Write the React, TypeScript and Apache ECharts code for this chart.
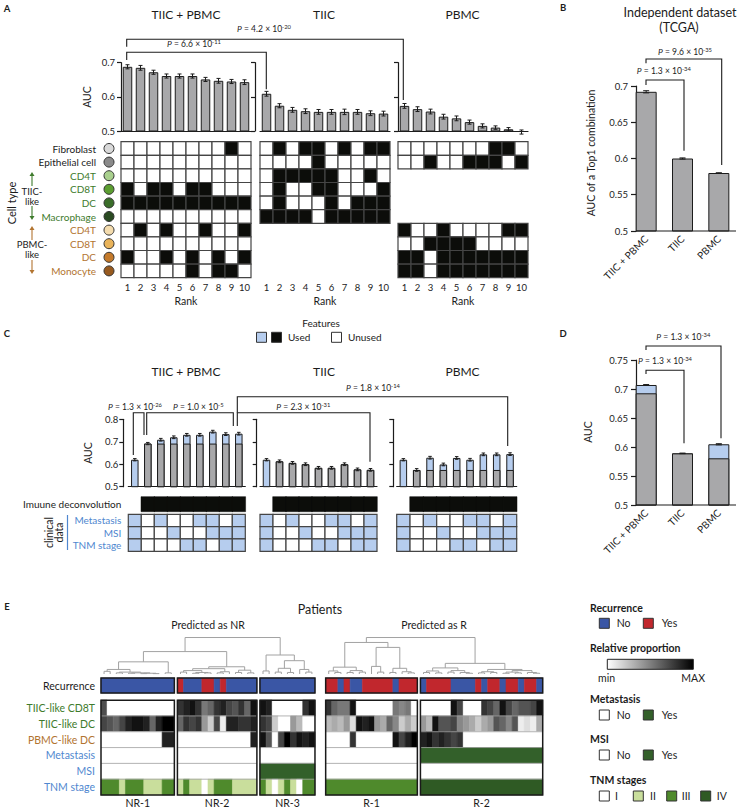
import { useEffect, useRef } from 'react';
import * as echarts from 'echarts';

const FONT = 'Lato, "Noto Sans", "DejaVu Sans", sans-serif';
const INK = '#1c1c1c';
const GREY_BAR = '#a8a8aa';
const BLUE_BAR = '#b6cdee';
const BLACK_CELL = '#0c0d0a';
const GREEN_TXT = '#3e7b2c';
const BROWN_TXT = '#b27430';
const BLUE_TXT = '#4f87cf';
const REC_NO = '#3a56a5';
const REC_YES = '#c1272d';
const BIN_YES = '#33602a';
const TNM_COLORS = ['#ffffff', '#c9de9c', '#4f8a2c', '#2f5a24'];

// ---------------- Panel A ----------------
const rankLabels = ['1', '2', '3', '4', '5', '6', '7', '8', '9', '10'];
const cellTypes = ['Fibroblast', 'Epithelial cell', 'CD4T', 'CD8T', 'DC', 'Macrophage', 'CD4T', 'CD8T', 'DC', 'Monocyte'];
const cellTypeTextColors = [INK, INK, GREEN_TXT, GREEN_TXT, GREEN_TXT, GREEN_TXT, BROWN_TXT, BROWN_TXT, BROWN_TXT, BROWN_TXT];
const cellDotColors = ['#d9d9d9', '#8a8a8a', '#a9d08e', '#5c9e31', '#3b6e2a', '#2a4a22', '#f4dcae', '#e9b35a', '#c47a2b', '#975a1f'];

const aucA_TiicPbmc = [0.688, 0.685, 0.672, 0.661, 0.661, 0.661, 0.651, 0.647, 0.645, 0.643];
const errA_TiicPbmc = [0.006, 0.007, 0.006, 0.006, 0.006, 0.006, 0.006, 0.007, 0.006, 0.007];
const aucA_Tiic = [0.609, 0.574, 0.562, 0.558, 0.556, 0.556, 0.556, 0.556, 0.552, 0.551];
const errA_Tiic = [0.007, 0.006, 0.007, 0.007, 0.007, 0.007, 0.008, 0.007, 0.007, 0.007];
const aucA_Pbmc = [0.5735, 0.564, 0.557, 0.542, 0.537, 0.526, 0.515, 0.51, 0.505, 0.497];
const errA_Pbmc = [0.007, 0.007, 0.007, 0.007, 0.007, 0.006, 0.006, 0.005, 0.005, 0.006];

// 1 = cell type used, null = cell type not available in that set
const matA_TiicPbmc = [
  [0, 0, 0, 0, 0, 0, 0, 0, 1, 0],
  [0, 0, 0, 0, 0, 0, 0, 0, 0, 0],
  [0, 0, 0, 0, 0, 0, 0, 0, 0, 0],
  [1, 0, 1, 1, 0, 1, 1, 0, 0, 0],
  [1, 1, 1, 1, 1, 1, 1, 1, 1, 1],
  [0, 0, 0, 0, 0, 0, 0, 0, 0, 0],
  [0, 1, 0, 1, 0, 0, 1, 0, 0, 1],
  [0, 0, 0, 0, 0, 0, 0, 0, 0, 0],
  [1, 0, 0, 1, 0, 1, 0, 1, 0, 1],
  [0, 0, 0, 0, 0, 1, 0, 1, 1, 0],
];
const matA_Tiic = [
  [0, 1, 0, 1, 1, 0, 1, 0, 1, 1],
  [0, 0, 0, 0, 1, 0, 0, 0, 0, 0],
  [0, 1, 1, 1, 1, 1, 0, 0, 1, 0],
  [0, 1, 0, 0, 1, 1, 0, 0, 0, 1],
  [0, 1, 0, 0, 0, 1, 0, 1, 1, 1],
  [1, 1, 1, 1, 0, 1, 1, 1, 1, 1],
  null, null, null, null,
];
const matA_Pbmc = [
  [0, 0, 0, 0, 0, 0, 0, 1, 1, 0],
  [0, 0, 1, 0, 0, 1, 1, 1, 0, 1],
  null, null, null, null,
  [1, 0, 0, 1, 0, 0, 0, 0, 1, 1],
  [0, 0, 1, 1, 1, 1, 0, 0, 0, 0],
  [1, 1, 0, 1, 1, 1, 1, 1, 1, 1],
  [1, 1, 0, 1, 1, 1, 1, 1, 1, 1],
];

// ---------------- Panel B ----------------
const groupLabels = ['TIIC + PBMC', 'TIIC', 'PBMC'];
const aucB = [0.692, 0.6, 0.58];
const errB = [0.0015, 0.0008, 0.0003];

// ---------------- Panel C ----------------
const combos = ['1', '2', '3', '4', '5', '6', '7', '8', '9'];
const aucC_TiicPbmc_total = [0.62, 0.692, 0.709, 0.72, 0.731, 0.731, 0.745, 0.734, 0.736];
const aucC_TiicPbmc_deconv: any[] = ['-', 0.692, 0.692, 0.692, 0.692, 0.692, 0.692, 0.692, 0.692];
const errC_TiicPbmc = [0.005, 0.005, 0.006, 0.006, 0.006, 0.006, 0.006, 0.006, 0.006];
const aucC_Tiic_total = [0.62, 0.613, 0.606, 0.6, 0.584, 0.584, 0.6, 0.577, 0.575];
const aucC_Tiic_deconv: any[] = ['-', 0.613, 0.606, 0.6, 0.584, 0.584, 0.6, 0.577, 0.575];
const errC_Tiic = [0.005, 0.006, 0.006, 0.006, 0.006, 0.006, 0.006, 0.006, 0.006];
const aucC_Pbmc_total = [0.62, 0.5745, 0.629, 0.599, 0.628, 0.62, 0.644, 0.644, 0.645];
const aucC_Pbmc_deconv: any[] = ['-', 0.5745, 0.5745, 0.5745, 0.5745, 0.5745, 0.5745, 0.5745, 0.5745];
const errC_Pbmc = [0.005, 0.006, 0.006, 0.006, 0.006, 0.006, 0.006, 0.006, 0.006];
const usesDeconvolution = [0, 1, 1, 1, 1, 1, 1, 1, 1];
const clinicalLabels = ['Metastasis', 'MSI', 'TNM stage'];
const usesMetastasis = [1, 0, 1, 0, 0, 1, 1, 0, 1];
const usesMSI = [1, 0, 0, 1, 0, 0, 1, 1, 1];
const usesTNM = [1, 0, 0, 0, 1, 1, 0, 1, 1];

// ---------------- Panel D ----------------
const aucD_deconv = [0.6926, 0.589, 0.5805];
const aucD_total = [0.7069, 0.589, 0.6047];
const errD = [0.0008, 0.0005, 0.001];

// ---------------- Panel E ----------------
const clusterNames = ['NR-1', 'NR-2', 'NR-3', 'R-1', 'R-2'];
const recurrence = [
  [0, 0, 0, 0, 0, 0, 0, 0, 0, 0, 0, 0],
  [1, 0, 0, 0, 1, 1, 0, 1, 0, 0, 0, 0, 0],
  [0, 0, 0, 0, 0, 0, 0, 0, 0],
  [1, 1, 0, 1, 0, 0, 1, 1, 1, 1, 1, 0, 1, 1, 1],
  [0, 1, 1, 1, 1, 0, 0, 0, 0, 1, 0, 1, 1, 0, 1, 1, 0, 1, 1, 0],
];
const tiicCD8 = [
  [0.7, 0, 0, 0, 0, 0, 0, 0, 0, 0, 0, 0],
  [0.8, 0.87, 0.93, 0.8, 0.53, 0.6, 0.8, 0.87, 0.73, 0.67, 0.8, 0.6, 0.93],
  [0.93, 0.87, 0, 0, 0, 0, 0, 0.8, 0.93],
  [0.8, 0.6, 0.53, 0.53, 0.93, 0, 0, 0, 0, 0, 0, 0.53, 0.47, 0.53, 0],
  [0, 0, 0, 0, 0, 0.93, 0.73, 0, 0, 0, 0.8, 0.73, 0.6, 0.93, 0.73, 0.6, 0.67, 0.67, 0.73, 0.93],
];
const tiicDC = [
  [0.73, 0.67, 0.6, 0.73, 0.87, 0.93, 0.93, 0.87, 0.6, 0.87, 1, 1],
  [0.6, 0.8, 0.73, 0.8, 0.4, 0.2, 0.73, 0.07, 0.87, 0.87, 0.8, 0.8, 0.87],
  [0.8, 0.73, 0.2, 0, 0, 0.4, 0.27, 0, 0],
  [0.27, 0.33, 0.27, 0.4, 0.13, 0.93, 0.87, 0.93, 0.4, 0.33, 0.6, 0.47, 0.2, 0.33, 0.2],
  [0.4, 0.27, 0.93, 0.67, 0.67, 0.73, 0.47, 0.4, 0.33, 0.2, 0.33, 0.4, 0.67, 0.6, 0.47, 0.67, 0.07, 0.13, 0.07, 0.33],
];
const pbmcDC = [
  [0, 0, 0, 0, 0, 0, 0, 0, 0, 0, 0.87, 0.87],
  [0, 0, 0, 0, 0, 0, 0, 0, 0, 0, 0, 0, 0.87],
  [0.93, 0.67, 0, 0.73, 1, 0.8, 0.93, 0.87, 0.93],
  [0, 0, 0, 0, 0.8, 0, 0, 0, 0, 0, 0, 0.93, 0.73, 0.87, 1],
  [0.87, 0.93, 0.8, 0.87, 0.8, 0.73, 0.8, 0, 0, 0, 0, 0, 0, 0, 0, 0, 0, 0, 0, 0],
];
const metastasis = [
  [0, 0, 0, 0, 0, 0, 0, 0, 0, 0, 0, 0],
  [0, 0, 0, 0, 0, 0, 0, 0, 0, 0, 0, 0, 0],
  [0, 0, 0, 0, 0, 0, 0, 0, 0],
  [0, 0, 0, 0, 0, 0, 0, 0, 0, 0, 0, 0, 0, 0, 0],
  [1, 1, 1, 1, 1, 1, 1, 1, 1, 1, 1, 1, 1, 1, 1, 1, 1, 1, 1, 1],
];
const msi = [
  [0, 0, 0, 0, 0, 0, 0, 0, 0, 0, 0, 0],
  [0, 0, 0, 0, 0, 0, 0, 0, 0, 0, 0, 0, 0],
  [1, 1, 1, 1, 1, 1, 1, 1, 1],
  [0, 0, 0, 0, 0, 0, 0, 0, 0, 0, 0, 0, 0, 0, 0],
  [0, 0, 0, 0, 0, 0, 0, 0, 0, 0, 0, 0, 0, 0, 0, 0, 0, 0, 0, 0],
];
const tnmStage = [
  [3, 3, 3, 2, 3, 3, 3, 2, 2, 2, 3, 3],
  [2, 3, 2, 2, 1, 2, 3, 3, 3, 2, 2, 2, 2],
  [3, 2, 1, 2, 3, 2, 1, 3, 3],
  [3, 3, 3, 3, 3, 3, 3, 3, 3, 3, 3, 3, 3, 3, 3],
  [4, 4, 4, 4, 4, 4, 4, 4, 4, 4, 4, 4, 4, 4, 4, 4, 4, 4, 4, 4],
];
// dendrograms: [height, left, right]; leaves = local patient index
const treeNR1 = [3.2, [1.2, [0.7, 0, 1], [0.5, [0.3, 2, 3], [0.3, [0.2, 4, 5], [0.2, [0.1, 6, 7], [0.1, 8, 9]]]]], [0.3, 10, 11]];
const treeNR2 = [1.9, [1.4, [0.9, [0.5, 0, 1], [0.4, [0.2, 2, 3], [0.3, 4, 5]]], [0.6, [0.3, 6, 7], 8]], [1.0, [0.4, 9, 10], [0.3, 11, 12]]];
const treeNR3 = [5.0, [0.8, 0, 1], [3.5, [1.5, [0.5, 2, 3], [0.4, 4, 5]], [1.2, 6, [0.5, 7, 8]]]];
const treeR1 = [8.3, [1.8, [0.8, 0, [0.4, 1, 2]], [0.9, [0.4, 3, 4], [0.5, 5, 6]]], [7.0, [2.0, 7, [0.5, 8, 9]], [1.5, [0.4, 10, 11], [0.6, 12, [0.3, 13, 14]]]]];
const treeR2 = [2.8, [1.6, [0.8, [0.4, 0, 1], [0.3, 2, 3]], [0.9, [0.5, 4, 5], [0.4, 6, [0.2, 7, 8]]]], [1.2, [0.6, [0.3, 9, 10], [0.4, 11, 12]], [0.9, [0.5, [0.2, 13, 14], [0.3, 15, 16]], [0.4, 17, [0.2, 18, 19]]]]];
const heightNRroot = 9.6;
const heightNR12 = 5.9;
const heightRroot = 9.6;

// layout constants for E (gaps between cluster blocks, in patient units)
const clusterGap = [0, 0.5, 0.5, 1.75, 0.5];

function buildOption() {
  const grid: any[] = [];
  const xAxis: any[] = [];
  const yAxis: any[] = [];
  const series: any[] = [];
  const graphic: any[] = [];
  const axLine = { show: true, lineStyle: { color: INK, width: 1.2 } };

  const addGrid = (g: any) => {
    grid.push({ ...g, containLabel: false, outerBoundsMode: 'none' });
    return grid.length - 1;
  };

  const errRender = (capW: number) => (params: any, api: any) => {
    const x = api.value(0);
    const top = api.coord([x, api.value(2)]);
    const bot = api.coord([x, api.value(1)]);
    const st = { stroke: INK, lineWidth: 1 };
    return {
      type: 'group',
      children: [
        { type: 'line', shape: { x1: top[0], y1: top[1], x2: bot[0], y2: bot[1] }, style: st },
        { type: 'line', shape: { x1: top[0] - capW / 2, y1: top[1], x2: top[0] + capW / 2, y2: top[1] }, style: st },
        { type: 'line', shape: { x1: bot[0] - capW / 2, y1: bot[1], x2: bot[0] + capW / 2, y2: bot[1] }, style: st },
      ],
    };
  };

  const cellRender = (fill: (v: number) => string) => (params: any, api: any) => {
    const c = api.coord([api.value(0), api.value(1)]);
    const s = api.size([1, 1]);
    return {
      type: 'rect',
      shape: { x: c[0] - s[0] / 2, y: c[1] - s[1] / 2, width: s[0], height: s[1] },
      style: { fill: fill(api.value(2)), stroke: '#454545', lineWidth: 1.2 },
    };
  };

  const barPanel = (cfg: any) => {
    const gi = addGrid({ left: cfg.left, top: cfg.top, width: cfg.width, height: cfg.height });
    xAxis.push({
      type: 'category', gridIndex: gi, data: cfg.cats,
      axisLine: cfg.hideX ? { show: false } : axLine,
      axisTick: { show: false },
      axisLabel: cfg.xLabel || { show: false },
    });
    yAxis.push({
      type: 'value', gridIndex: gi, min: cfg.min, max: cfg.max, interval: cfg.interval,
      offset: cfg.offset || 0, splitLine: { show: false }, axisLine: axLine,
      axisTick: { show: true, length: cfg.tickLen || 4, lineStyle: { color: INK, width: 1.2 } },
      axisLabel: {
        show: !!cfg.showY, fontSize: 9.5, fontFamily: FONT, color: INK, margin: cfg.margin || 5,
        formatter: (v: number) => String(+v.toFixed(2)),
      },
    });
    return gi;
  };

  // ===== Panel A bars =====
  const aGroups = [
    { left: 121, off: 0, showY: true, vals: aucA_TiicPbmc, err: errA_TiicPbmc, mat: matA_TiicPbmc },
    { left: 260, off: 5, showY: false, vals: aucA_Tiic, err: errA_Tiic, mat: matA_Tiic },
    { left: 398, off: 0, showY: false, vals: aucA_Pbmc, err: errA_Pbmc, mat: matA_Pbmc },
  ];
  aGroups.forEach((g) => {
    const gi = barPanel({ left: g.left, top: 62.7, width: 130, height: 68.3, cats: rankLabels, min: 0.5, max: 0.7, interval: 0.1, offset: g.off, showY: g.showY, margin: 6 });
    series.push({ type: 'bar', xAxisIndex: gi, yAxisIndex: gi, data: g.vals, barWidth: 9.5, silent: true, itemStyle: { color: GREY_BAR, borderColor: INK, borderWidth: 1 } });
    series.push({ type: 'custom', xAxisIndex: gi, yAxisIndex: gi, silent: true, z: 5, renderItem: errRender(4), data: g.vals.map((v, i) => [i, v - g.err[i], v + g.err[i]]) });
  });
  // ===== Panel A matrices =====
  aGroups.forEach((g, k) => {
    const gi = addGrid({ left: g.left, top: 141.7, width: 130, height: 136 });
    xAxis.push({
      type: 'category', gridIndex: gi, data: rankLabels, position: 'bottom',
      axisLine: { show: false }, axisTick: { show: false },
      axisLabel: { interval: 0, fontSize: 9.5, fontFamily: FONT, color: INK, margin: 5 },
      name: 'Rank', nameLocation: 'middle', nameGap: 18,
      nameTextStyle: { fontSize: 10.5, fontFamily: FONT, color: INK },
    });
    yAxis.push({
      type: 'category', gridIndex: gi, data: cellTypes.map((_, i) => 'r' + i), inverse: true,
      axisLine: { show: false }, axisTick: { show: false },
      axisLabel: k === 0
        ? { show: true, interval: 0, margin: 25, fontSize: 10, fontFamily: FONT, formatter: (v: string, i: number) => cellTypes[i], color: (v: any, i: number) => cellTypeTextColors[i] }
        : { show: false },
    });
    const data: any[] = [];
    g.mat.forEach((row: any, r: number) => row && row.forEach((v: number, c: number) => data.push([c, r, v])));
    series.push({ type: 'custom', xAxisIndex: gi, yAxisIndex: gi, silent: true, renderItem: cellRender((v) => (v ? BLACK_CELL : '#ffffff')), data });
  });

  // ===== Panel B =====
  {
    const gi = barPanel({
      left: 628, top: 86, width: 109, height: 145, cats: groupLabels, min: 0.5, max: 0.7, interval: 0.05,
      offset: -8, showY: true, margin: 8, tickLen: 5, hideX: true,
      xLabel: { show: true, rotate: 45, interval: 0, fontSize: 10, fontFamily: FONT, color: INK, margin: 6 },
    });
    series.push({ type: 'bar', xAxisIndex: gi, yAxisIndex: gi, data: aucB, barWidth: 21, silent: true, itemStyle: { color: GREY_BAR, borderColor: INK, borderWidth: 1 } });
    series.push({ type: 'custom', xAxisIndex: gi, yAxisIndex: gi, silent: true, z: 5, renderItem: errRender(6), data: aucB.map((v, i) => [i, v - errB[i], v + errB[i]]) });
  }

  // ===== Panel C bars =====
  const cGroups = [
    { left: 128.3, width: 117, off: 5, showY: true, total: aucC_TiicPbmc_total, base: aucC_TiicPbmc_deconv, err: errC_TiicPbmc },
    { left: 260, width: 117, off: 3.3, showY: false, total: aucC_Tiic_total, base: aucC_Tiic_deconv, err: errC_Tiic },
    { left: 396.7, width: 120, off: 3.4, showY: false, total: aucC_Pbmc_total, base: aucC_Pbmc_deconv, err: errC_Pbmc },
  ];
  cGroups.forEach((g) => {
    const gi = barPanel({ left: g.left, top: 419.3, width: g.width, height: 67.4, cats: combos, min: 0.5, max: 0.8, interval: 0.1, offset: g.off, showY: g.showY, margin: 5 });
    series.push({ type: 'bar', xAxisIndex: gi, yAxisIndex: gi, data: g.total, barWidth: 7.5, barGap: '-100%', silent: true, itemStyle: { color: BLUE_BAR, borderColor: INK, borderWidth: 1 } });
    series.push({ type: 'bar', xAxisIndex: gi, yAxisIndex: gi, data: g.base, barWidth: 7.5, barGap: '-100%', silent: true, itemStyle: { color: GREY_BAR, borderColor: INK, borderWidth: 1 } });
    series.push({ type: 'custom', xAxisIndex: gi, yAxisIndex: gi, silent: true, z: 5, renderItem: errRender(3.5), data: g.total.map((v, i) => [i, v - g.err[i], v + g.err[i]]) });
  });
  // deconvolution rows
  cGroups.forEach((g, k) => {
    const gi = addGrid({ left: g.left, top: 496.7, width: g.width, height: 15 });
    xAxis.push({ type: 'category', gridIndex: gi, data: combos, show: false });
    yAxis.push({
      type: 'category', gridIndex: gi, data: ['Imuune deconvolution'],
      axisLine: { show: false }, axisTick: { show: false },
      axisLabel: { show: k === 0, margin: 7, fontSize: 10, fontFamily: FONT, color: INK },
    });
    series.push({
      type: 'custom', xAxisIndex: gi, yAxisIndex: gi, silent: true,
      data: usesDeconvolution.map((v, i) => [i, 0, v]).filter((d) => d[2] === 1),
      renderItem: (params: any, api: any) => {
        const c = api.coord([api.value(0), 0]);
        const s = api.size([1, 1]);
        return { type: 'rect', shape: { x: c[0] - s[0] / 2 - 0.3, y: c[1] - s[1] / 2, width: s[0] + 0.6, height: s[1] }, style: { fill: BLACK_CELL, stroke: BLACK_CELL, lineWidth: 0.5 } };
      },
    });
  });
  // clinical matrices
  cGroups.forEach((g, k) => {
    const gi = addGrid({ left: g.left, top: 514.3, width: g.width, height: 37 });
    xAxis.push({ type: 'category', gridIndex: gi, data: combos, show: false });
    yAxis.push({
      type: 'category', gridIndex: gi, data: clinicalLabels, inverse: true,
      axisLine: { show: false }, axisTick: { show: false },
      axisLabel: { show: k === 0, interval: 0, margin: 7, fontSize: 10, fontFamily: FONT, color: BLUE_TXT },
    });
    const data: any[] = [];
    [usesMetastasis, usesMSI, usesTNM].forEach((row, r) => row.forEach((v, c) => data.push([c, r, v])));
    series.push({ type: 'custom', xAxisIndex: gi, yAxisIndex: gi, silent: true, renderItem: cellRender((v) => (v ? BLUE_BAR : '#ffffff')), data });
  });

  // ===== Panel D =====
  {
    const gi = barPanel({
      left: 628, top: 360, width: 109, height: 145, cats: groupLabels, min: 0.5, max: 0.75, interval: 0.05,
      offset: -8, showY: true, margin: 8, tickLen: 5, hideX: true,
      xLabel: { show: true, rotate: 45, interval: 0, fontSize: 10, fontFamily: FONT, color: INK, margin: 6 },
    });
    series.push({ type: 'bar', xAxisIndex: gi, yAxisIndex: gi, data: aucD_total, barWidth: 21, barGap: '-100%', silent: true, itemStyle: { color: BLUE_BAR, borderColor: INK, borderWidth: 1 } });
    series.push({ type: 'bar', xAxisIndex: gi, yAxisIndex: gi, data: aucD_deconv, barWidth: 21, barGap: '-100%', silent: true, itemStyle: { color: GREY_BAR, borderColor: INK, borderWidth: 1 } });
    series.push({ type: 'custom', xAxisIndex: gi, yAxisIndex: gi, silent: true, z: 5, renderItem: errRender(6), data: aucD_total.map((v, i) => [i, v - errD[i], v + errD[i]]) });
  }

  // ===== Panel E =====
  const sizes = recurrence.map((r) => r.length);
  const starts: number[] = [];
  sizes.forEach((n, i) => starts.push(i === 0 ? 0 : starts[i - 1] + sizes[i - 1] + clusterGap[i]));
  const totalUnits = starts[starts.length - 1] + sizes[sizes.length - 1];

  // dendrogram
  {
    const gi = addGrid({ left: 101, top: 636, width: 441.7, height: 38 });
    xAxis.push({ type: 'value', gridIndex: gi, min: 0, max: totalUnits, show: false, splitLine: { show: false } });
    yAxis.push({ type: 'value', gridIndex: gi, min: 0, max: 10, show: false, splitLine: { show: false } });
    const segs: number[][] = [];
    const layoutTree = (node: any, off: number): { x: number; h: number } => {
      if (typeof node === 'number') return { x: off + node + 0.5, h: 0 };
      if (!Array.isArray(node)) return layoutTree(node.t, node.off);
      const [h, l, r] = node;
      const a = layoutTree(l, off);
      const b = layoutTree(r, off);
      segs.push([a.x, a.h, a.x, h], [b.x, b.h, b.x, h], [a.x, h, b.x, h]);
      return { x: (a.x + b.x) / 2, h };
    };
    layoutTree([heightNRroot, [heightNR12, { off: starts[0], t: treeNR1 }, { off: starts[1], t: treeNR2 }], { off: starts[2], t: treeNR3 }], 0);
    layoutTree([heightRroot, { off: starts[3], t: treeR1 }, { off: starts[4], t: treeR2 }], 0);
    series.push({
      type: 'custom', xAxisIndex: gi, yAxisIndex: gi, silent: true, data: segs,
      renderItem: (params: any, api: any) => {
        const p = api.coord([api.value(0), api.value(1)]);
        const q = api.coord([api.value(2), api.value(3)]);
        return { type: 'line', shape: { x1: p[0], y1: p[1], x2: q[0], y2: q[1] }, style: { stroke: '#a2a2a2', lineWidth: 1 } };
      },
    });
  }
  // heatmap: consecutive equal cells in a row are merged into one run [start, row, value, kind, length]
  {
    const gi = addGrid({ left: 101, top: 678, width: 441.7, height: 117 });
    xAxis.push({ type: 'value', gridIndex: gi, min: 0, max: totalUnits, show: false, splitLine: { show: false } });
    yAxis.push({ type: 'value', gridIndex: gi, min: 0, max: 7.4, inverse: true, show: false, splitLine: { show: false } });
    const data: any[] = [];
    const pushRuns = (vals: number[], x0: number, row: number, kind: number) => {
      let j = 0;
      while (j < vals.length) {
        let n = 1;
        while (j + n < vals.length && vals[j + n] === vals[j]) n++;
        data.push([x0 + j, row, vals[j], kind, n]);
        j += n;
      }
    };
    const rows = [tiicCD8, tiicDC, pbmcDC, metastasis, msi, tnmStage];
    const kinds = [1, 1, 1, 2, 2, 3];
    clusterNames.forEach((_, k) => {
      pushRuns(recurrence[k], starts[k], -1, 0);
      rows.forEach((row, r) => pushRuns(row[k], starts[k], r, kinds[r]));
    });
    const colorOf = (v: number, kind: number) => {
      if (kind === 0) return v ? REC_YES : REC_NO;
      if (kind === 2) return v ? BIN_YES : '#ffffff';
      if (kind === 3) return TNM_COLORS[v - 1];
      const g = Math.round(255 * (1 - v));
      return `rgb(${g},${g},${g})`;
    };
    series.push({
      type: 'custom', xAxisIndex: gi, yAxisIndex: gi, silent: true, data,
      renderItem: (params: any, api: any) => {
        const x = api.value(0), r = api.value(1), n = api.value(4);
        const y0 = r < 0 ? 0 : 1.4 + r;
        const y1 = r < 0 ? 0.95 : 2.4 + r;
        const p0 = api.coord([x, y0]);
        const p1 = api.coord([x + n, y1]);
        const col = colorOf(api.value(2), api.value(3));
        return { type: 'rect', shape: { x: p0[0], y: Math.min(p0[1], p1[1]), width: p1[0] - p0[0], height: Math.abs(p1[1] - p0[1]) }, style: { fill: col, stroke: col, lineWidth: 0.6 } };
      },
    });
    series.push({
      type: 'custom', xAxisIndex: gi, yAxisIndex: gi, silent: true, z: 4,
      data: clusterNames.map((_, k) => [starts[k], starts[k] + sizes[k]]),
      renderItem: (params: any, api: any) => {
        const s = api.value(0), e = api.value(1);
        const a = api.coord([s, 0]), b = api.coord([e, 0.95]);
        const c = api.coord([s, 1.4]), d = api.coord([e, 7.4]);
        const children: any[] = [];
        for (let r = 1; r < 6; r++) {
          const p = api.coord([s, 1.4 + r]);
          children.push({ type: 'line', shape: { x1: c[0], y1: p[1], x2: d[0], y2: p[1] }, style: { stroke: '#a0a0a0', lineWidth: 0.8 } });
        }
        children.push({ type: 'rect', shape: { x: a[0], y: a[1], width: b[0] - a[0], height: b[1] - a[1] }, style: { fill: 'none', stroke: '#1a1a1a', lineWidth: 1.5 } });
        children.push({ type: 'rect', shape: { x: c[0], y: c[1], width: d[0] - c[0], height: d[1] - c[1] }, style: { fill: 'none', stroke: '#1a1a1a', lineWidth: 1.5 } });
        return { type: 'group', children };
      },
    });
    // cluster labels under the blocks
    clusterNames.forEach((n, k) => {
      const cx = 101 + ((starts[k] + sizes[k] / 2) / totalUnits) * 441.7;
      graphic.push(txt(n, cx, 802.5, { size: 10.5 }));
    });
  }

  // ===== graphic annotations =====
  // panel letters
  graphic.push(txt('A', 7, 8, { size: 9.5, weight: 'bold' }));
  graphic.push(txt('B', 563, 7, { size: 9.5, weight: 'bold' }));
  graphic.push(txt('C', 7, 333, { size: 9.5, weight: 'bold' }));
  graphic.push(txt('D', 563, 333, { size: 9.5, weight: 'bold' }));
  graphic.push(txt('E', 7, 606, { size: 9.5, weight: 'bold' }));

  // titles A / C
  [['TIIC + PBMC', 186], ['TIIC', 324], ['PBMC', 462.5]].forEach(([t, x]: any) => {
    graphic.push(txt(t, x, 14, { size: 12 }));
    graphic.push(txt(t, x, 371, { size: 12 }));
  });
  graphic.push(txt('AUC', 87, 97, { size: 10.5, rot: Math.PI / 2 }));
  graphic.push(txt('AUC', 88, 453, { size: 10.5, rot: Math.PI / 2 }));
  graphic.push(txt('Cell type', 11, 203, { size: 11, rot: Math.PI / 2 }));

  // panel A brackets
  graphic.push(pline([[126.7, 46.7], [126.7, 39.3], [403.3, 39.3], [403.3, 100]]));
  graphic.push(pText('4.2', '-20', 264, 29.3));
  graphic.push(pline([[126.7, 60], [126.7, 52.3], [266.3, 52.3], [266.3, 89.3]]));
  graphic.push(pText('6.6', '-11', 194, 44.3));

  // cell type dots
  cellTypes.forEach((_, i) => {
    const y = 141.7 + 13.6 * (i + 0.5);
    graphic.push({ type: 'circle', silent: true, shape: { cx: 109, cy: y, r: 5 }, style: { fill: cellDotColors[i], stroke: '#333', lineWidth: 1 } });
  });
  // TIIC-like / PBMC-like annotations
  graphic.push(...arrow(32, 186, 172, GREEN_TXT), ...arrow(32, 206, 220, GREEN_TXT));
  graphic.push(txt('TIIC-\nlike', 32, 196.3, { size: 9.5, fill: INK, lineHeight: 10 }));
  graphic.push(...arrow(32, 240, 226, BROWN_TXT), ...arrow(32, 260, 274, BROWN_TXT));
  graphic.push(txt('PBMC-\nlike', 32, 249.7, { size: 9.5, fill: INK, lineHeight: 10 }));

  // Features legend
  graphic.push(txt('Features', 321, 322.5, { size: 10 }));
  graphic.push(box(256.5, 332.3, 10, BLUE_BAR), box(271.5, 332.3, 10, BLACK_CELL), txt('Used', 288, 337.3, { size: 10, align: 'left' }));
  graphic.push(box(331.5, 332.3, 10, '#ffffff'), txt('Unused', 348, 337.3, { size: 10, align: 'left' }));

  // panel B texts
  graphic.push(txt('Independent dataset', 680, 12.7, { size: 12.5 }));
  graphic.push(txt('(TCGA)', 679, 27.7, { size: 12.5 }));
  graphic.push(txt('AUC of a Top1 combination', 591, 153, { size: 10.5, rot: Math.PI / 2 }));
  graphic.push(pline([[636, 231], [736, 231]], 1.2));
  graphic.push(pline([[646, 85], [646, 80], [684, 80], [684, 150.7]]));
  graphic.push(pText('1.3', '-34', 663.8, 71));
  graphic.push(pline([[646, 63.3], [646, 59], [721.7, 59], [721.7, 165]]));
  graphic.push(pText('9.6', '-35', 685, 51.7));

  // panel C brackets
  graphic.push(pline([[133.3, 455], [133.3, 412.7], [144, 412.7], [144, 435]]));
  graphic.push(pText('1.3', '-26', 135, 406.7));
  graphic.push(pline([[146.7, 435], [146.7, 412.7], [233.3, 412.7], [233.3, 426]]));
  graphic.push(pText('1.0', '-5', 198.3, 406.7));
  graphic.push(pline([[237.3, 426], [237.3, 412.7], [370, 412.7], [370, 461.7]]));
  graphic.push(pText('2.3', '-31', 303.3, 406.7));
  graphic.push(pline([[237.3, 412.7], [237.3, 396.7], [507.7, 396.7], [507.7, 446]]));
  graphic.push(pText('1.8', '-14', 373, 388));
  // clinical data label
  graphic.push(txt('clinical\ndata', 54, 532.5, { size: 10.5, rot: Math.PI / 2, fill: INK, lineHeight: 10.5 }));
  graphic.push(pline([[67.5, 515], [67.5, 550]], 1.2, BLUE_TXT));

  // panel D
  graphic.push(txt('AUC', 588, 432, { size: 10.5, rot: Math.PI / 2 }));
  graphic.push(pline([[636, 505], [736, 505]], 1.2));
  graphic.push(pline([[646, 374], [646, 370.3], [684, 370.3], [684, 443.3]]));
  graphic.push(pText('1.3', '-34', 665, 361));
  graphic.push(pline([[646, 350], [646, 346], [721, 346], [721, 438.3]]));
  graphic.push(pText('1.3', '-34', 683.3, 336.7));

  // panel E texts
  graphic.push(txt('Patients', 320, 609, { size: 12.5 }));
  graphic.push(txt('Predicted as NR', 208, 625, { size: 10.5 }));
  graphic.push(txt('Predicted as R', 434, 625, { size: 10.5 }));
  const eRowY0 = 700.1, eRowH = 15.81;
  graphic.push(txt('Recurrence', 95, 685.8, { size: 10.5, align: 'right' }));
  [['TIIC-like CD8T', GREEN_TXT], ['TIIC-like DC', GREEN_TXT], ['PBMC-like DC', BROWN_TXT], ['Metastasis', BLUE_TXT], ['MSI', BLUE_TXT], ['TNM stage', BLUE_TXT]].forEach(([t, c]: any, r) => {
    graphic.push(txt(t, 95, eRowY0 + eRowH * (r + 0.5), { size: 10.5, align: 'right', fill: c }));
  });

  // panel E legend
  const LX = 590;
  graphic.push(txt('Recurrence', LX, 607.7, { size: 10.5, weight: 'bold', align: 'left' }));
  graphic.push(box(599.3, 618.3, 10, REC_NO), txt('No', 616.7, 623.3, { size: 10.5, align: 'left' }));
  graphic.push(box(643.3, 618.3, 10, REC_YES), txt('Yes', 661.7, 623.3, { size: 10.5, align: 'left' }));
  graphic.push(txt('Relative proportion', LX, 648.3, { size: 10.5, weight: 'bold', align: 'left' }));
  graphic.push({
    type: 'rect', silent: true, shape: { x: 607.3, y: 659.3, width: 86, height: 10 },
    style: { fill: { type: 'linear', x: 0, y: 0, x2: 1, y2: 0, colorStops: [{ offset: 0, color: '#ffffff' }, { offset: 1, color: '#000000' }] }, stroke: '#222', lineWidth: 1 },
  });
  graphic.push(txt('min', 598, 678, { size: 10.5, align: 'left' }), txt('MAX', 705, 678, { size: 10.5, align: 'right' }));
  graphic.push(txt('Metastasis', LX, 699.3, { size: 10.5, weight: 'bold', align: 'left' }));
  graphic.push(box(599.3, 710, 10, '#ffffff'), txt('No', 616.7, 715, { size: 10.5, align: 'left' }));
  graphic.push(box(643.3, 710, 10, BIN_YES), txt('Yes', 661.7, 715, { size: 10.5, align: 'left' }));
  graphic.push(txt('MSI', LX, 739.3, { size: 10.5, weight: 'bold', align: 'left' }));
  graphic.push(box(599.3, 750, 10, '#ffffff'), txt('No', 616.7, 755, { size: 10.5, align: 'left' }));
  graphic.push(box(643.3, 750, 10, BIN_YES), txt('Yes', 661.7, 755, { size: 10.5, align: 'left' }));
  graphic.push(txt('TNM stages', LX, 780, { size: 10.5, weight: 'bold', align: 'left' }));
  [['I', 599.3, 615], ['II', 633.3, 650], ['III', 666.7, 681.7], ['IV', 700.7, 716.7]].forEach(([t, bx, tx]: any, i) => {
    graphic.push(box(bx, 791, 10, TNM_COLORS[i]), txt(t, tx, 796, { size: 10.5, align: 'left' }));
  });

  return {
    animation: false,
    backgroundColor: '#ffffff',
    textStyle: { fontFamily: FONT },
    grid, xAxis, yAxis, series, graphic,
  };
}

function txt(text: string, x: number, y: number, o: any = {}) {
  const align = o.align || 'center';
  return {
    type: 'text', x, y, rotation: o.rot || 0, silent: true, z: 10,
    style: {
      text, fill: o.fill || INK, fontSize: o.size || 10, fontFamily: FONT, fontWeight: o.weight || 'normal',
      align, textAlign: align, verticalAlign: 'middle', textVerticalAlign: 'middle', lineHeight: o.lineHeight,
    },
  };
}

function pText(mant: string, exp: string, x: number, y: number) {
  return {
    type: 'text', x, y, silent: true, z: 10,
    style: {
      text: `{i|P}{n| = ${mant} × 10}{s|${exp}}`, fontSize: 8.5, fontFamily: FONT, fill: INK,
      align: 'center', textAlign: 'center', verticalAlign: 'middle', textVerticalAlign: 'middle',
      rich: {
        i: { fontStyle: 'italic', fontSize: 8.5, fontFamily: FONT, fill: INK, lineHeight: 11 },
        n: { fontSize: 8.5, fontFamily: FONT, fill: INK, lineHeight: 11 },
        s: { fontSize: 5.8, fontFamily: FONT, fill: INK, lineHeight: 7, verticalAlign: 'top' },
      },
    },
  };
}

function pline(points: number[][], lw = 1.1, color = INK) {
  return { type: 'polyline', silent: true, z: 9, shape: { points }, style: { stroke: color, lineWidth: lw, fill: 'none' } };
}

function box(x: number, y: number, s: number, fill: string) {
  return { type: 'rect', silent: true, z: 10, shape: { x, y, width: s, height: s }, style: { fill, stroke: '#333', lineWidth: 1 } };
}

function arrow(x: number, from: number, to: number, color: string) {
  const dir = to < from ? -1 : 1;
  return [
    { type: 'line', silent: true, shape: { x1: x, y1: from, x2: x, y2: to - dir * 3 }, style: { stroke: color, lineWidth: 1.1 } },
    { type: 'polygon', silent: true, shape: { points: [[x, to], [x - 2.5, to - dir * 4], [x + 2.5, to - dir * 4]] }, style: { fill: color } },
  ];
}

export default function App() {
  const ref = useRef<HTMLDivElement>(null);
  useEffect(() => {
    document.body.style.margin = '0';
    const chart = echarts.init(ref.current!, null, { renderer: 'svg', width: 740, height: 809 });
    chart.setOption(buildOption() as any);
    return () => chart.dispose();
  }, []);
  return <div ref={ref} style={{ position: 'absolute', left: 0, top: 0, width: 740, height: 809, background: '#fff' }} />;
}
